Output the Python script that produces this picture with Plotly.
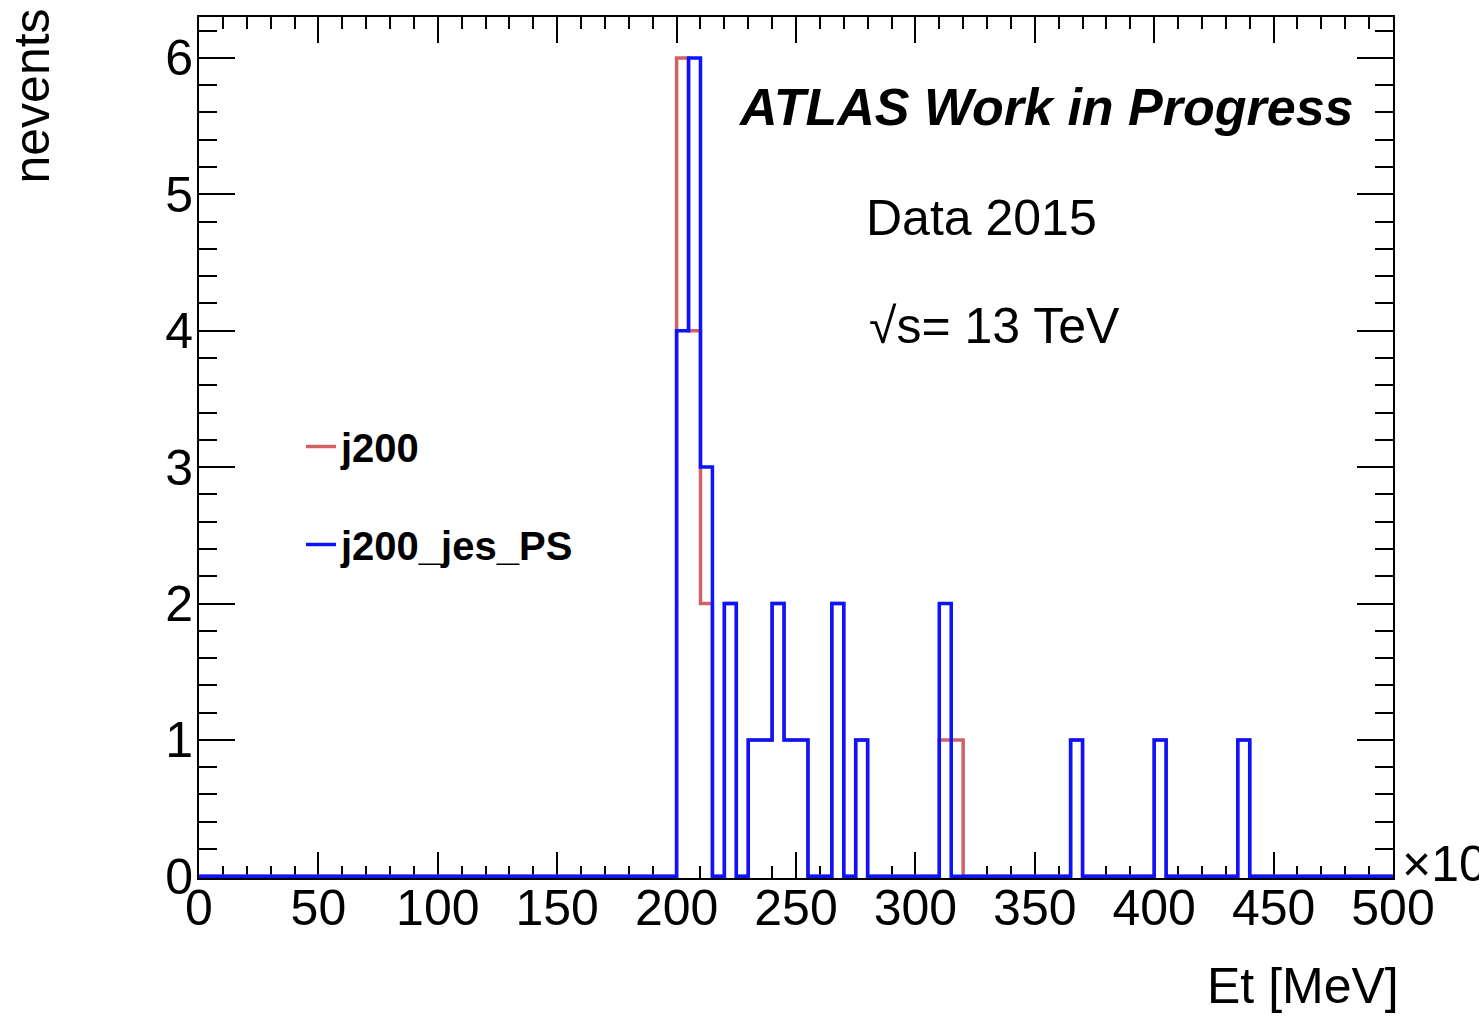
import plotly.graph_objects as go

# ---- data ----
bin_width = 5
x_min, x_max = 0, 500
# non-empty bins (lower edge) and their counts
j200_bins = [200, 205, 210, 220, 230, 235, 240, 245, 250, 265, 275, 310, 315, 365, 400, 435]
j200_counts = [6, 4, 2, 2, 1, 1, 2, 1, 1, 2, 1, 1, 1, 1, 1, 1]
jes_bins = [200, 205, 210, 220, 230, 235, 240, 245, 250, 265, 275, 310, 365, 400, 435]
jes_counts = [4, 6, 3, 2, 1, 1, 2, 1, 1, 2, 1, 2, 1, 1, 1]

x_ticks = [0, 50, 100, 150, 200, 250, 300, 350, 400, 450, 500]
y_ticks = [0, 1, 2, 3, 4, 5, 6]


def step_xy(bins, counts):
    edges = list(range(x_min, x_max + bin_width, bin_width))
    full = [0] * (len(edges) - 1)
    for b, c in zip(bins, counts):
        full[(b - x_min) // bin_width] = c
    return edges, full + [full[-1]]


FONT = "Liberation Sans, Arial, Helvetica, sans-serif"

fig = go.Figure()
ex, ey = step_xy(j200_bins, j200_counts)
fig.add_trace(go.Scatter(x=ex, y=ey, mode="lines", line=dict(shape="hv", color="#cf6262", width=3.5),
                         name="<b>j200</b>", legendgroup="a"))
ex, ey = step_xy(jes_bins, jes_counts)
fig.add_trace(go.Scatter(x=ex, y=ey, mode="lines", line=dict(shape="hv", color="#0a14ff", width=3.5),
                         name="<b>j200_jes_PS</b>", legendgroup="b"))

W, H = 1479, 1024
L, R, T, B = 199, 1393, 17, 878
pw, ph = R - L, B - T


def px(x):
    return (x - L) / pw


def py(y):
    return (B - y) / ph


fig.update_layout(
    width=W, height=H,
    margin=dict(l=L, r=W - R, t=T, b=H - B, pad=0),
    paper_bgcolor="white", plot_bgcolor="white",
    font=dict(family=FONT, size=50, color="black"),
    showlegend=True,
    legend=dict(x=px(301), y=py(414), xanchor="left", yanchor="top",
                font=dict(size=40, family=FONT), bgcolor="rgba(0,0,0,0)",
                traceorder="grouped", tracegroupgap=43, borderwidth=0),
    xaxis=dict(range=[x_min, x_max], showgrid=False, zeroline=False,
               showline=True, linecolor="black", linewidth=2, mirror="allticks",
               ticks="inside", ticklen=26, tickwidth=2, tickcolor="black",
               tickvals=x_ticks, ticktext=[str(v) for v in x_ticks],
               tickfont=dict(size=50), layer="below traces", ticklabelstandoff=-15,
               minor=dict(dtick=10, tick0=0, ticks="inside", ticklen=12, tickwidth=2, tickcolor="black", showgrid=False)),
    yaxis=dict(range=[-0.0125, 6.3], showgrid=False, zeroline=False,
               showline=True, linecolor="black", linewidth=2, mirror="allticks",
               ticks="inside", ticklen=36, tickwidth=2, tickcolor="black",
               tickvals=y_ticks, ticktext=[str(v) for v in y_ticks],
               tickfont=dict(size=50), layer="below traces", ticklabelstandoff=-6,
               minor=dict(dtick=0.2, tick0=0, ticks="inside", ticklen=18, tickwidth=2, tickcolor="black", showgrid=False)),
)

ann = [
    dict(text="<b><i>ATLAS Work in Progress</i></b>", x=px(1355), y=py(107), xanchor="right", yanchor="middle", font=dict(size=52)),
    dict(text="Data 2015", x=px(865), y=py(218), xanchor="left", yanchor="middle", font=dict(size=50)),
    dict(text="√s= 13 TeV", x=px(868), y=py(326), xanchor="left", yanchor="middle", font=dict(size=50)),
    dict(text="×10<sup>3</sup>", x=px(1401), y=py(860), xanchor="left", yanchor="middle", font=dict(size=50)),
    dict(text="nevents", x=px(31), y=py(8), xanchor="center", yanchor="top", textangle=-90, font=dict(size=50)),
    dict(text="Et [MeV]", x=px(1400), y=py(986), xanchor="right", yanchor="middle", font=dict(size=50)),
]
for a in ann:
    fig.add_annotation(xref="paper", yref="paper", showarrow=False, borderpad=0, **a)

fig.write_html("out.html", config={"displayModeBar": False},
               post_script="document.body.style.margin='0';document.body.style.padding='0';")
